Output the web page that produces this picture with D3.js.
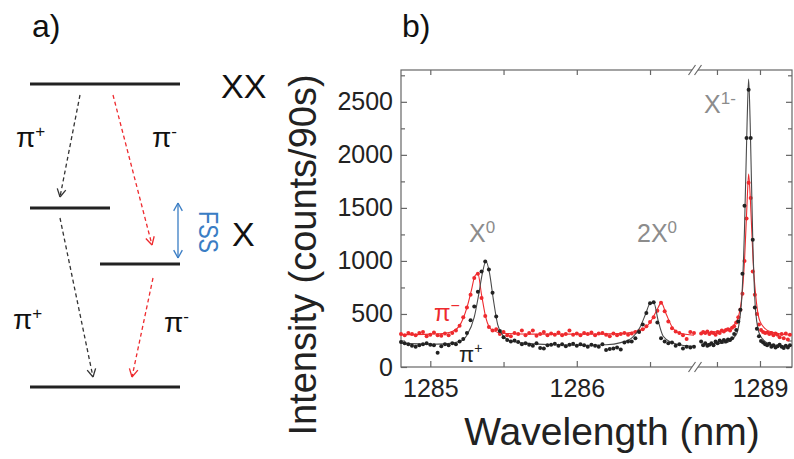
<!DOCTYPE html>
<html><head><meta charset="utf-8">
<script src="https://cdn.jsdelivr.net/npm/d3@7"></script>
<style>
html,body{margin:0;padding:0;background:#fff;}
svg{display:block;font-family:"Liberation Sans",Arial,sans-serif;}
</style></head>
<body><svg id="c" width="794" height="459"></svg>
<script>
// ---------- DATA ----------
const lambdaLeft = [1284.800,1284.825,1284.850,1284.875,1284.900,1284.925,1284.950,1284.975,1285.000,1285.025,
1285.050,1285.075,1285.100,1285.125,1285.150,1285.175,1285.200,1285.225,1285.250,1285.275,
1285.300,1285.325,1285.350,1285.375,1285.400,1285.425,1285.450,1285.475,1285.500,1285.525,
1285.550,1285.575,1285.600,1285.625,1285.650,1285.675,1285.700,1285.725,1285.750,1285.775,
1285.800,1285.825,1285.850,1285.875,1285.900,1285.925,1285.950,1285.975,1286.000,1286.025,
1286.050,1286.075,1286.100,1286.125,1286.150,1286.175,1286.200,1286.225,1286.250,1286.275,
1286.300,1286.325,1286.350,1286.375,1286.400,1286.425,1286.450,1286.475,1286.500,1286.525,
1286.550,1286.575,1286.600,1286.625,1286.650,1286.675,1286.700,1286.725,1286.750,1286.775,1286.800];
const piPlusLeft = [235,225,215,200,190,205,215,225,210,205,
135,195,215,205,225,215,240,265,320,440,
570,710,900,995,920,700,475,340,280,255,
240,250,235,215,225,210,200,225,180,175,
205,210,220,200,215,195,210,220,200,215,
205,190,210,200,190,215,160,170,175,185,
165,230,240,240,270,330,400,510,600,610,
420,270,240,225,230,200,215,175,190,185,190];
const piMinusLeft = [310,300,320,310,300,320,330,290,305,325,
300,295,315,300,320,345,390,470,560,680,
840,880,650,480,377,345,355,310,330,300,
290,320,310,345,300,320,345,295,310,330,
300,315,305,325,300,310,345,305,315,300,
320,310,325,300,315,320,305,290,315,300,
310,320,305,315,330,340,355,385,425,470,
530,605,525,430,365,335,320,300,265,330,320];

const lambdaRight = [1288.658,1288.670,1288.682,1288.694,1288.706,1288.718,1288.730,1288.742,1288.754,1288.766,
1288.778,1288.790,1288.802,1288.814,1288.826,1288.838,1288.850,1288.862,1288.874,1288.886,
1288.898,1288.910,1288.922,1288.934,1288.946,1288.958,1288.970,1288.982,1288.994,1289.006,
1289.018,1289.030,1289.042,1289.054,1289.066,1289.078,1289.090,1289.102,1289.114,1289.126,
1289.138,1289.150,1289.162,1289.174];
const piPlusRight = [240,205,225,200,210,225,205,240,225,250,
235,255,240,260,255,270,310,350,430,540,
880,1520,2160,2613,2160,1200,560,360,290,245,
230,215,205,220,190,205,185,195,210,190,
180,200,185,205];
const piMinusRight = [315,330,320,335,310,325,320,305,330,320,
345,335,350,355,345,370,385,420,470,540,
690,1000,1400,1736,1594,900,680,500,400,350,
330,320,325,310,320,300,315,305,280,310,
270,315,260,305];

// fitted curves
const fitPlusLeftLambda = [1284.8,1285.0,1285.1,1285.2,1285.25,1285.3,1285.33,1285.355,1285.38,1285.405,1285.43,1285.46,1285.5,1285.55,1285.65,1285.8,1286.0,1286.2,1286.3,1286.38,1286.43,1286.47,1286.5,1286.525,1286.555,1286.59,1286.65,1286.7,1286.8];
const fitPlusLeft = [225,215,218,240,300,470,680,880,1000,880,640,400,290,245,225,212,205,210,230,280,370,500,600,610,440,290,230,210,195];
const fitMinusLeftLambda = [1284.8,1285.0,1285.1,1285.15,1285.2,1285.25,1285.28,1285.305,1285.325,1285.35,1285.38,1285.42,1285.5,1285.7,1286.0,1286.3,1286.45,1286.5,1286.545,1286.577,1286.61,1286.65,1286.7,1286.8];
const fitMinusLeft = [305,310,318,335,390,560,720,860,880,680,460,350,318,310,310,315,355,420,530,605,500,380,320,300];
const fitPlusRightLambda = [1288.658,1288.8,1288.86,1288.89,1288.91,1288.925,1288.934,1288.943,1288.958,1288.975,1289.0,1289.06,1289.18];
const fitPlusRight = [215,230,300,560,1300,2300,2715,2300,1200,520,300,215,195];
const fitMinusRightLambda = [1288.658,1288.8,1288.86,1288.89,1288.91,1288.925,1288.934,1288.945,1288.96,1288.98,1289.0,1289.05,1289.18];
const fitMinusRight = [320,345,420,600,1000,1550,1820,1550,1000,600,430,340,300];

const yTicks = [0,500,1000,1500,2000,2500];
const yTickLabels = ["0","500","1000","1500","2000","2500"];
const yMinorTicks = [250,750,1250,1750,2250,2750];
const xTicksLeft = [1285,1286];
const xMinorLeft = [1285.5,1286.5];
const xTicksRight = [1289];
const xMinorRight = [1288.75];
const xTickValues = [1285,1286,1289];
const xTickLabels = ["1285","1286","1289"];

// ---------- CHART ----------
const svg = d3.select("#c");
const L = 401, R = 792, T = 70, B = 367, BRK = 695;
const xL = d3.scaleLinear().domain([1284.8, 1286.807]).range([L, BRK]);
const xR = d3.scaleLinear().domain([1288.634, 1289.186]).range([697, R]);
const y = d3.scaleLinear().domain([0, 2800]).range([B, T]);

const RED = "#ee2a2e", BLK = "#222", AX = "#666";

svg.append("rect").attr("x", L).attr("y", T).attr("width", R - L).attr("height", B - T)
  .attr("fill", "none").attr("stroke", AX).attr("stroke-width", 1.2);

function styleAxis(g) {
  g.select(".domain").remove();
  g.selectAll("line").attr("stroke", AX).attr("stroke-width", 1.2);
  g.selectAll("text").attr("fill", "#222").attr("font-size", 25)
    .attr("font-family", "'Liberation Sans',Arial,sans-serif");
}
const yFmt = d => yTickLabels[yTicks.indexOf(d)];
const xFmt = d => xTickLabels[xTickValues.indexOf(d)];

svg.append("g").attr("transform", `translate(${L},0)`)
  .call(d3.axisLeft(y).tickValues(yTicks).tickSizeInner(-6).tickSizeOuter(0).tickPadding(8).tickFormat(yFmt))
  .call(styleAxis);
svg.append("g").attr("transform", `translate(${L},0)`)
  .call(d3.axisLeft(y).tickValues(yMinorTicks).tickSizeInner(-4).tickSizeOuter(0).tickFormat(""))
  .call(styleAxis);
svg.append("g").attr("transform", `translate(${R},0)`)
  .call(d3.axisRight(y).tickValues(yTicks).tickSizeInner(-6).tickSizeOuter(0).tickFormat(""))
  .call(styleAxis);
svg.append("g").attr("transform", `translate(${R},0)`)
  .call(d3.axisRight(y).tickValues(yMinorTicks).tickSizeInner(-4).tickSizeOuter(0).tickFormat(""))
  .call(styleAxis);
svg.append("g").attr("transform", `translate(0,${B})`)
  .call(d3.axisBottom(xL).tickValues(xTicksLeft).tickSizeInner(-6).tickSizeOuter(0).tickPadding(12).tickFormat(xFmt))
  .call(styleAxis);
svg.append("g").attr("transform", `translate(0,${B})`)
  .call(d3.axisBottom(xR).tickValues(xTicksRight).tickSizeInner(-6).tickSizeOuter(0).tickPadding(12).tickFormat(xFmt))
  .call(styleAxis);
svg.append("g").attr("transform", `translate(0,${B})`)
  .call(d3.axisBottom(xL).tickValues(xMinorLeft).tickSizeInner(-5).tickSizeOuter(0).tickFormat(""))
  .call(styleAxis);
svg.append("g").attr("transform", `translate(0,${B})`)
  .call(d3.axisBottom(xR).tickValues(xMinorRight).tickSizeInner(-5).tickSizeOuter(0).tickFormat(""))
  .call(styleAxis);
svg.append("g").attr("transform", `translate(0,${T})`)
  .call(d3.axisTop(xL).tickValues(xTicksLeft.concat(xMinorLeft)).tickSizeInner(-5).tickSizeOuter(0).tickFormat(""))
  .call(styleAxis);
svg.append("g").attr("transform", `translate(0,${T})`)
  .call(d3.axisTop(xR).tickValues(xTicksRight.concat(xMinorRight)).tickSizeInner(-5).tickSizeOuter(0).tickFormat(""))
  .call(styleAxis);

// break marks
[T, B].forEach(yy => {
  svg.append("rect").attr("x", BRK - 3).attr("y", yy - 2).attr("width", 6).attr("height", 4).attr("fill", "#fff");
  [BRK - 3, BRK + 3].forEach(xx => {
    svg.append("line").attr("x1", xx - 3.5).attr("y1", yy + 5).attr("x2", xx + 3.5).attr("y2", yy - 5)
      .attr("stroke", AX).attr("stroke-width", 1.2);
  });
});

function fitLine(xs, lam, vals, color, w) {
  const pts = lam.map((l, i) => [xs(l), y(vals[i])]);
  svg.append("path").attr("d", d3.line().curve(d3.curveMonotoneX)(pts))
    .attr("fill", "none").attr("stroke", color).attr("stroke-width", w);
}
function dots(xs, lam, vals, color) {
  svg.append("g").selectAll("circle").data(lam).join("circle")
    .attr("cx", d => xs(d)).attr("cy", (d, i) => y(vals[i])).attr("r", 2).attr("fill", color);
}
fitLine(xL, fitMinusLeftLambda, fitMinusLeft, RED, 1.1);
fitLine(xR, fitMinusRightLambda, fitMinusRight, RED, 1.1);
dots(xL, lambdaLeft, piMinusLeft, RED);
dots(xR, lambdaRight, piMinusRight, RED);
fitLine(xL, fitPlusLeftLambda, fitPlusLeft, "#4a4a4a", 1.1);
fitLine(xR, fitPlusRightLambda, fitPlusRight, "#4a4a4a", 1.1);
dots(xL, lambdaLeft, piPlusLeft, BLK);
dots(xR, lambdaRight, piPlusRight, BLK);

const GR = "#8c8c8c";
function supLabel(x, yb, base, sup, color, fs, sfs, rise) {
  const t = svg.append("text").attr("x", x).attr("y", yb).attr("fill", color).attr("font-size", fs);
  t.append("tspan").text(base);
  t.append("tspan").attr("font-size", sfs).attr("dy", -rise).text(sup);
  return t;
}
supLabel(469, 242, "X", "0", GR, 25, 17, 9);
supLabel(637, 242, "2X", "0", GR, 25, 17, 9);
supLabel(704, 113, "X", "1-", GR, 25, 17, 9);
supLabel(434, 321, "π", "−", RED, 24, 16, 10);
supLabel(459, 362, "π", "+", BLK, 22, 14, 9);

svg.append("text").attr("x", 612).attr("y", 445).attr("text-anchor", "middle")
  .attr("font-size", 39).attr("fill", "#222").text("Wavelength (nm)");
svg.append("text").attr("transform", "translate(316,255) rotate(-90)").attr("text-anchor", "middle")
  .attr("font-size", 38).attr("fill", "#222").text("Intensity (counts/90s)");

svg.append("text").attr("x", 32).attr("y", 37).attr("font-size", 32).attr("fill", "#111").text("a)");
svg.append("text").attr("x", 402).attr("y", 37).attr("font-size", 32).attr("fill", "#111").text("b)");

// ---------- LEVEL DIAGRAM ----------
const levels = [[30,180,84],[30,110,208],[100,180,264],[30,180,387]];
levels.forEach(l => svg.append("line").attr("x1", l[0]).attr("x2", l[1]).attr("y1", l[2]).attr("y2", l[2])
  .attr("stroke", "#222").attr("stroke-width", 3.2));
svg.append("text").attr("x", 221).attr("y", 98).attr("font-size", 34).attr("fill", "#111").text("XX");
svg.append("text").attr("x", 232).attr("y", 246).attr("font-size", 34).attr("fill", "#111").text("X");

function arrow(x1, y1, x2, y2, color, dashed) {
  svg.append("line").attr("x1", x1).attr("y1", y1).attr("x2", x2).attr("y2", y2)
    .attr("stroke", color).attr("stroke-width", 1.3).attr("stroke-dasharray", dashed ? "4,3" : null);
  const a = Math.atan2(y2 - y1, x2 - x1), len = 9, sp = 0.5;
  [a + Math.PI - sp, a + Math.PI + sp].forEach(b => {
    svg.append("line").attr("x1", x2).attr("y1", y2)
      .attr("x2", x2 + len * Math.cos(b)).attr("y2", y2 + len * Math.sin(b))
      .attr("stroke", color).attr("stroke-width", 1.3);
  });
}
arrow(80, 95, 60, 197, "#333", true);
arrow(113, 95, 152, 245, "#ee2a2e", true);
arrow(60, 218, 93, 377, "#333", true);
arrow(153, 278, 132, 377, "#ee2a2e", true);
arrow(178, 230, 178, 203, "#3a7dc4", false);
arrow(178, 230, 178, 258, "#3a7dc4", false);

svg.append("text").attr("transform", "translate(199,211) rotate(90)").attr("font-size", 27)
  .attr("fill", "#3a7dc4").attr("textLength", 42).attr("lengthAdjust", "spacingAndGlyphs").text("FSS");

supLabel(16, 147, "π", "+", "#111", 28, 17, 10);
supLabel(152, 147, "π", "-", "#111", 28, 17, 10);
supLabel(13, 329, "π", "+", "#111", 28, 17, 10);
supLabel(164, 332, "π", "-", "#111", 28, 17, 10);
</script></body></html>
